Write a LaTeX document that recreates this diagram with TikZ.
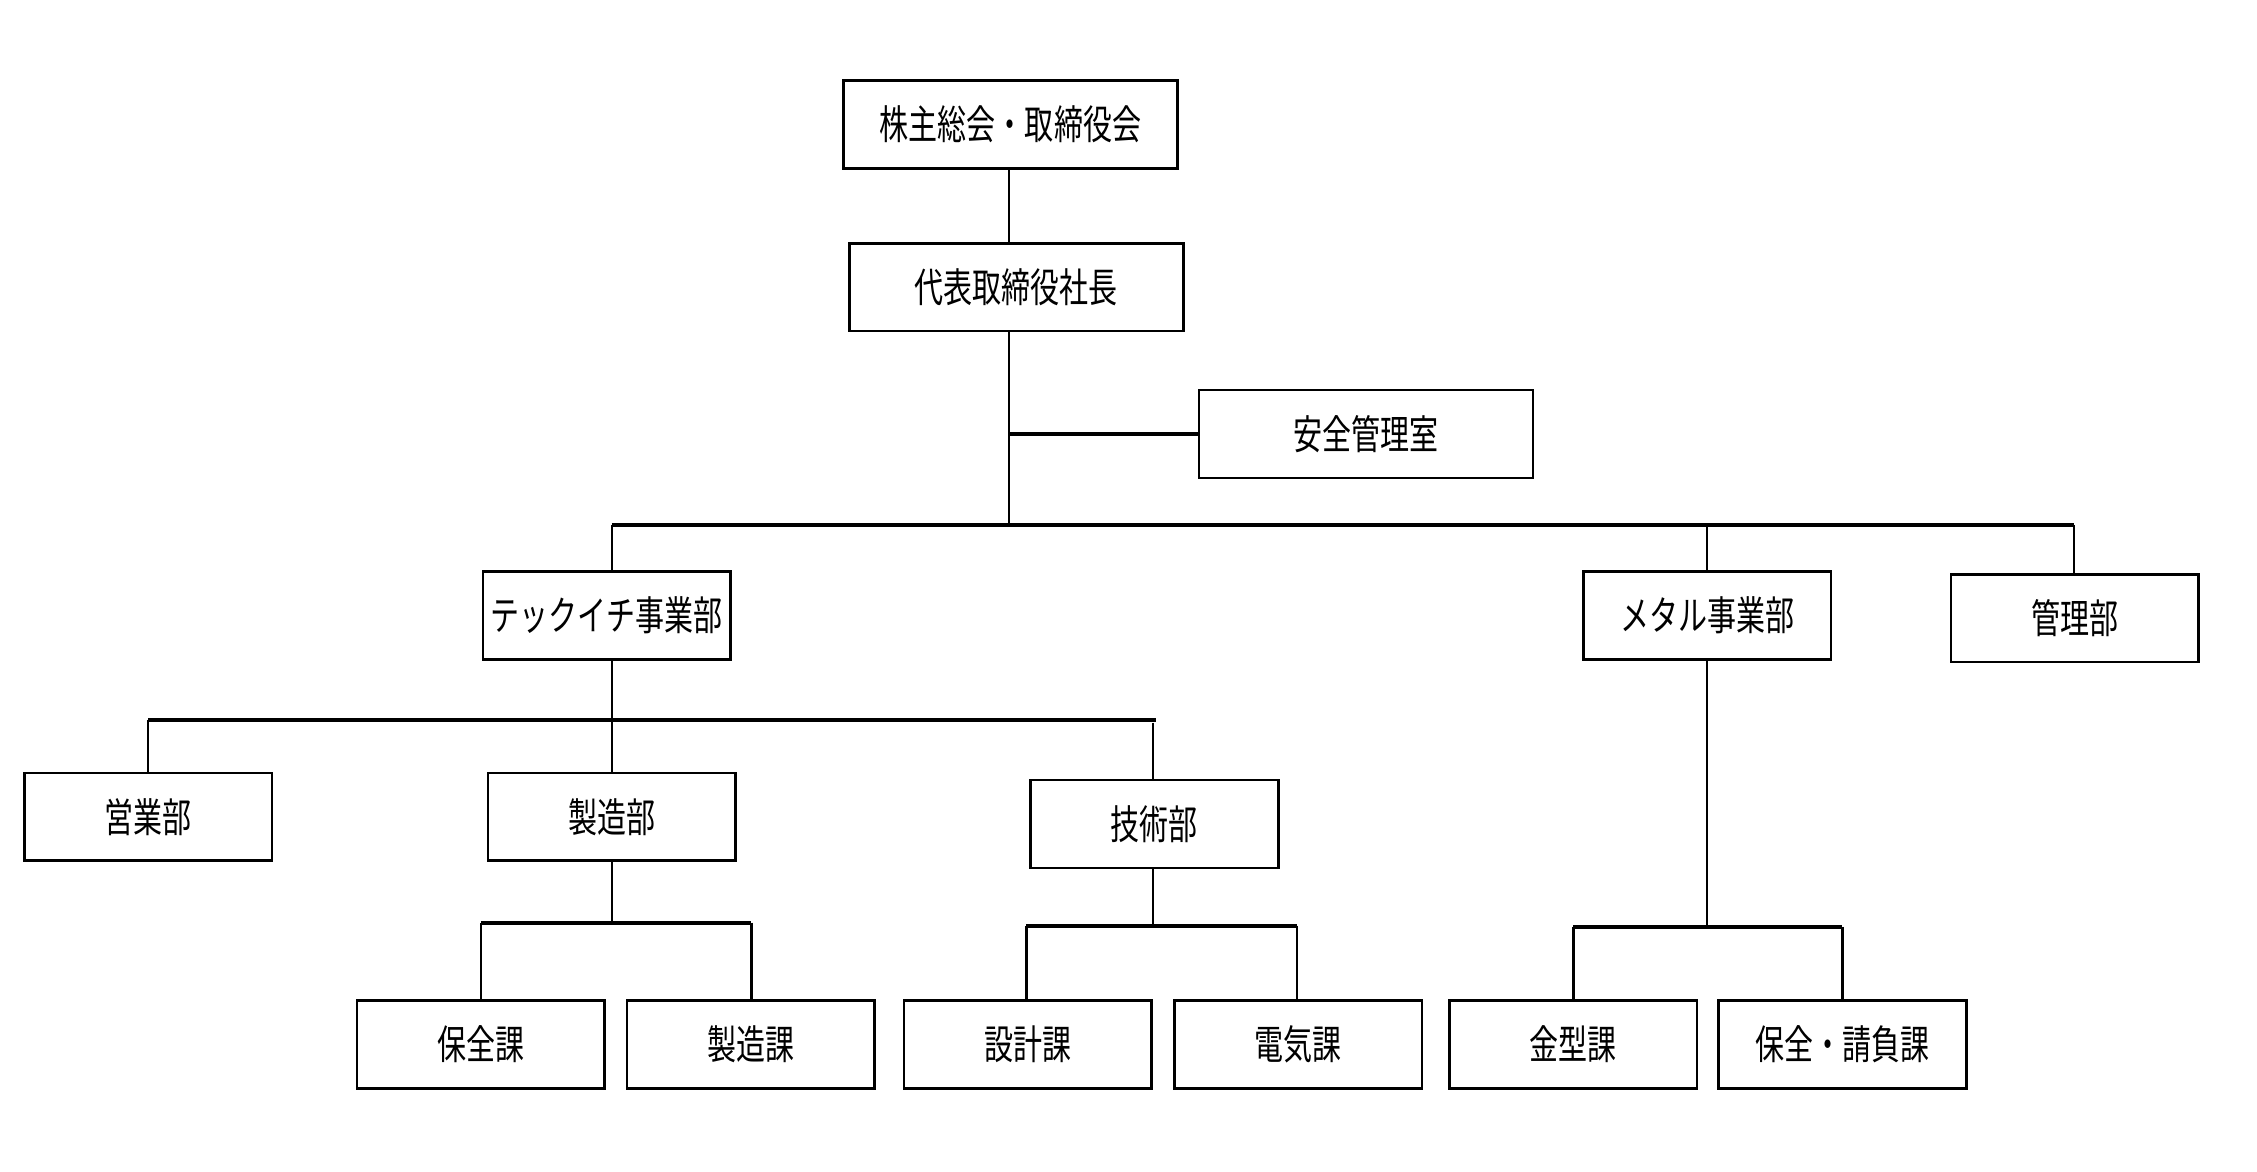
\documentclass[tikz,border=0pt]{standalone}
\usepackage{fontspec}
\newfontfamily\jp[FakeStretch=0.72]{Noto Sans CJK JP}
\tikzset{
  orgbox/.style={draw, line width=0.9pt, minimum width=86pt, minimum height=30.5pt, inner sep=0pt, font=\jp\fontsize{14}{14}\selectfont},
  widebox/.style={orgbox, minimum width=116pt},
  vline/.style={line width=0.85pt},
  busline/.style={line width=1.4pt},
}
\begin{document}
\begin{tikzpicture}[x=0.5pt,y=-0.5pt]
\useasboundingbox (0,0) rectangle (1568,814);
% nodes
\node[widebox] (top) at (702,86.5) {株主総会・取締役会};
\node[widebox] (ceo) at (706,199.5) {代表取締役社長};
\node[widebox] (safety) at (949,301.5) {安全管理室};
\node[orgbox] (tech) at (421.5,427.5) {テックイチ事業部};
\node[orgbox] (metal) at (1186,427.5) {メタル事業部};
\node[orgbox] (kanri) at (1441.5,429.5) {管理部};
\node[orgbox] (eigyo) at (103,567.5) {営業部};
\node[orgbox] (seizo) at (425,567.5) {製造部};
\node[orgbox] (gijutsu) at (802,572.5) {技術部};
\node[orgbox] (hozen) at (334,725.5) {保全課};
\node[orgbox] (seizoka) at (521.5,725.5) {製造課};
\node[orgbox] (sekkei) at (714,725.5) {設計課};
\node[orgbox] (denki) at (902,725.5) {電気課};
\node[orgbox] (kanagata) at (1093,725.5) {金型課};
\node[orgbox] (hozenuke) at (1280,725.5) {保全・請負課};
% junction coordinates
\coordinate (j0) at (701,365);
\coordinate (jL) at (425,365);
\coordinate (jM) at (1186,365);
\coordinate (jR) at (1441,365);
\coordinate (t0) at (425,500);
\coordinate (tL) at (103,500);
\coordinate (tR) at (803,500);
\coordinate (tG) at (801,502);
\coordinate (s0) at (425,641);
\coordinate (sL) at (334,641);
\coordinate (sR) at (522,641);
\coordinate (g0) at (801,643);
\coordinate (gL) at (713,643);
\coordinate (gR) at (901,643);
\coordinate (m0) at (1186,644);
\coordinate (mL) at (1093,644);
\coordinate (mR) at (1280,644);
% top chain
\draw[vline] (j0 |- top.south) -- (j0 |- ceo.north);
\draw[vline] (j0 |- ceo.south) -- (j0);
\draw[line width=1.2pt] (j0 |- safety.west) -- (safety.west);
% main bus
\draw[busline] (jL) -- (jR);
\draw[vline] (jL) -- (jL |- tech.north);
\draw[vline] (jM) -- (metal.north);
\draw[vline] (jR) -- (jR |- kanri.north);
% tech division
\draw[vline] (t0 |- tech.south) -- (t0 |- seizo.north);
\draw[busline] (tL) -- (tR);
\draw[vline] (tL) -- (eigyo.north);
\draw[vline] (tG) -- (tG |- gijutsu.north);
% seizo
\draw[vline] (seizo.south) -- (s0);
\draw[busline] (sL) -- (sR);
\draw[vline] (sL) -- (sL |- hozen.north);
\draw[vline] (sR) -- (sR |- seizoka.north);
% gijutsu
\draw[vline] (g0 |- gijutsu.south) -- (g0);
\draw[busline] (gL) -- (gR);
\draw[vline] (gL) -- (gL |- sekkei.north);
\draw[vline] (gR) -- (gR |- denki.north);
% metal
\draw[vline] (metal.south) -- (m0);
\draw[busline] (mL) -- (mR);
\draw[vline] (mL) -- (kanagata.north);
\draw[vline] (mR) -- (hozenuke.north);
\end{tikzpicture}
\end{document}
